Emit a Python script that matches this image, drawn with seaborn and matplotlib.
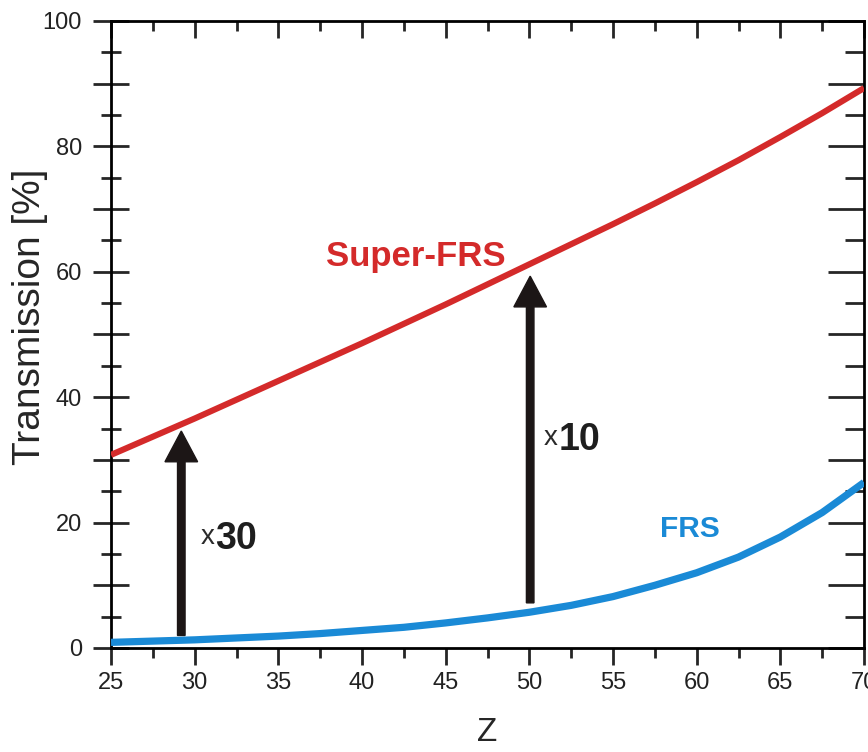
import matplotlib
matplotlib.use("Agg")
import matplotlib.pyplot as plt
from matplotlib.ticker import MultipleLocator, FuncFormatter
import pandas as pd
import seaborn as sns

# Atomic number Z and transmission [%] for the two separators
z_values = [25, 27.5, 30, 32.5, 35, 37.5, 40, 42.5, 45, 47.5, 50, 52.5, 55, 57.5, 60, 62.5, 65, 67.5, 70]
super_frs = [30.8, 33.7, 36.6, 39.6, 42.6, 45.6, 48.6, 51.7, 54.8, 58.0, 61.2, 64.4, 67.6, 70.9, 74.3, 77.8, 81.5, 85.3, 89.3]
frs = [0.9, 1.1, 1.3, 1.6, 1.9, 2.3, 2.8, 3.3, 4.0, 4.8, 5.7, 6.8, 8.2, 10.0, 12.0, 14.5, 17.7, 21.6, 26.4]

# Gain arrows: Z position, base and tip (percent), and gain factor text
arrow_z = [29.2, 50.05]
arrow_base = [2.0, 7.2]
arrow_tip = [34.6, 59.3]
arrow_gain = ["30", "10"]
gain_label_pos = [(31.22, 15.8), (51.72, 31.6)]

red = "#d42a2a"
blue = "#1a8ad6"
ink = "#1c1616"

sns.set_style("ticks")
plt.rcParams["font.family"] = ["Liberation Sans", "DejaVu Sans"]

df = pd.DataFrame({"Z": z_values * 2,
                   "T": super_frs + frs,
                   "Separator": ["Super-FRS"] * len(z_values) + ["FRS"] * len(z_values)})

fig = plt.figure(figsize=(8.68, 7.52), dpi=100)
ax = fig.add_axes([0.1279, 0.1383, 0.8675, 0.8338])

sns.lineplot(data=df[df.Separator == "Super-FRS"], x="Z", y="T", color=red, lw=4.4, ax=ax,
             zorder=3, solid_joinstyle="round", solid_capstyle="butt")
sns.lineplot(data=df[df.Separator == "FRS"], x="Z", y="T", color=blue, lw=5.2, ax=ax,
             zorder=3, solid_joinstyle="round", solid_capstyle="butt")

ax.set_xlim(25, 70)
ax.set_ylim(0, 100)

for z, b, t in zip(arrow_z, arrow_base, arrow_tip):
    ax.arrow(z, b, 0, t - b, width=0.45, head_width=1.95, head_length=4.9,
             length_includes_head=True, color=ink, zorder=4)

for (gx, gy), g in zip(gain_label_pos, arrow_gain):
    ax.annotate(g, (gx, gy), fontsize=27, fontweight="bold", color="#1e1e1e",
                ha="left", va="baseline")
    ax.annotate("x", (gx, gy), xytext=(-0.3, 3.5), textcoords="offset points",
                fontsize=20, color="#2a2a2a", ha="right", va="baseline")

ax.text(43.2, 62.4, "Super-FRS", color=red, fontsize=25, fontweight="bold", ha="center", va="center")
ax.text(59.6, 19.0, "FRS", color=blue, fontsize=21.5, fontweight="bold", ha="center", va="center")

# Origin-style frame with ticks on all four sides
for s in ax.spines.values():
    s.set_linewidth(2.0)
    s.set_color("black")
    s.set_visible(True)

ax.xaxis.set_major_locator(MultipleLocator(5))
ax.xaxis.set_minor_locator(MultipleLocator(2.5))
ax.yaxis.set_major_locator(MultipleLocator(10))
ax.yaxis.set_minor_locator(MultipleLocator(5))
ax.yaxis.set_major_formatter(FuncFormatter(lambda v, p: f"{int(v)}" if int(round(v)) % 20 == 0 else ""))

ax.tick_params(axis="x", which="major", direction="out", length=12, width=2, labelsize=17,
               labelcolor="#222222", pad=5, top=True)
ax.tick_params(axis="x", which="minor", direction="out", length=7, width=2, top=True)
ax.tick_params(axis="y", which="major", direction="inout", length=26, width=2, labelsize=17,
               labelcolor="#222222", pad=8, right=True)
ax.tick_params(axis="y", which="minor", direction="inout", length=14, width=2, right=True)

# top and right ticks point inwards
for t in ax.xaxis.get_major_ticks() + ax.xaxis.get_minor_ticks():
    t.tick2line.set_marker(3)
for t in ax.yaxis.get_major_ticks() + ax.yaxis.get_minor_ticks():
    t.tick2line.set_marker(0)

ax.set_xlabel("Z", fontsize=24, labelpad=17)
ax.set_ylabel("Transmission [%]", fontsize=28)
ax.yaxis.set_label_coords(-0.084, 0.528)

fig.savefig("out.png", dpi=100)
